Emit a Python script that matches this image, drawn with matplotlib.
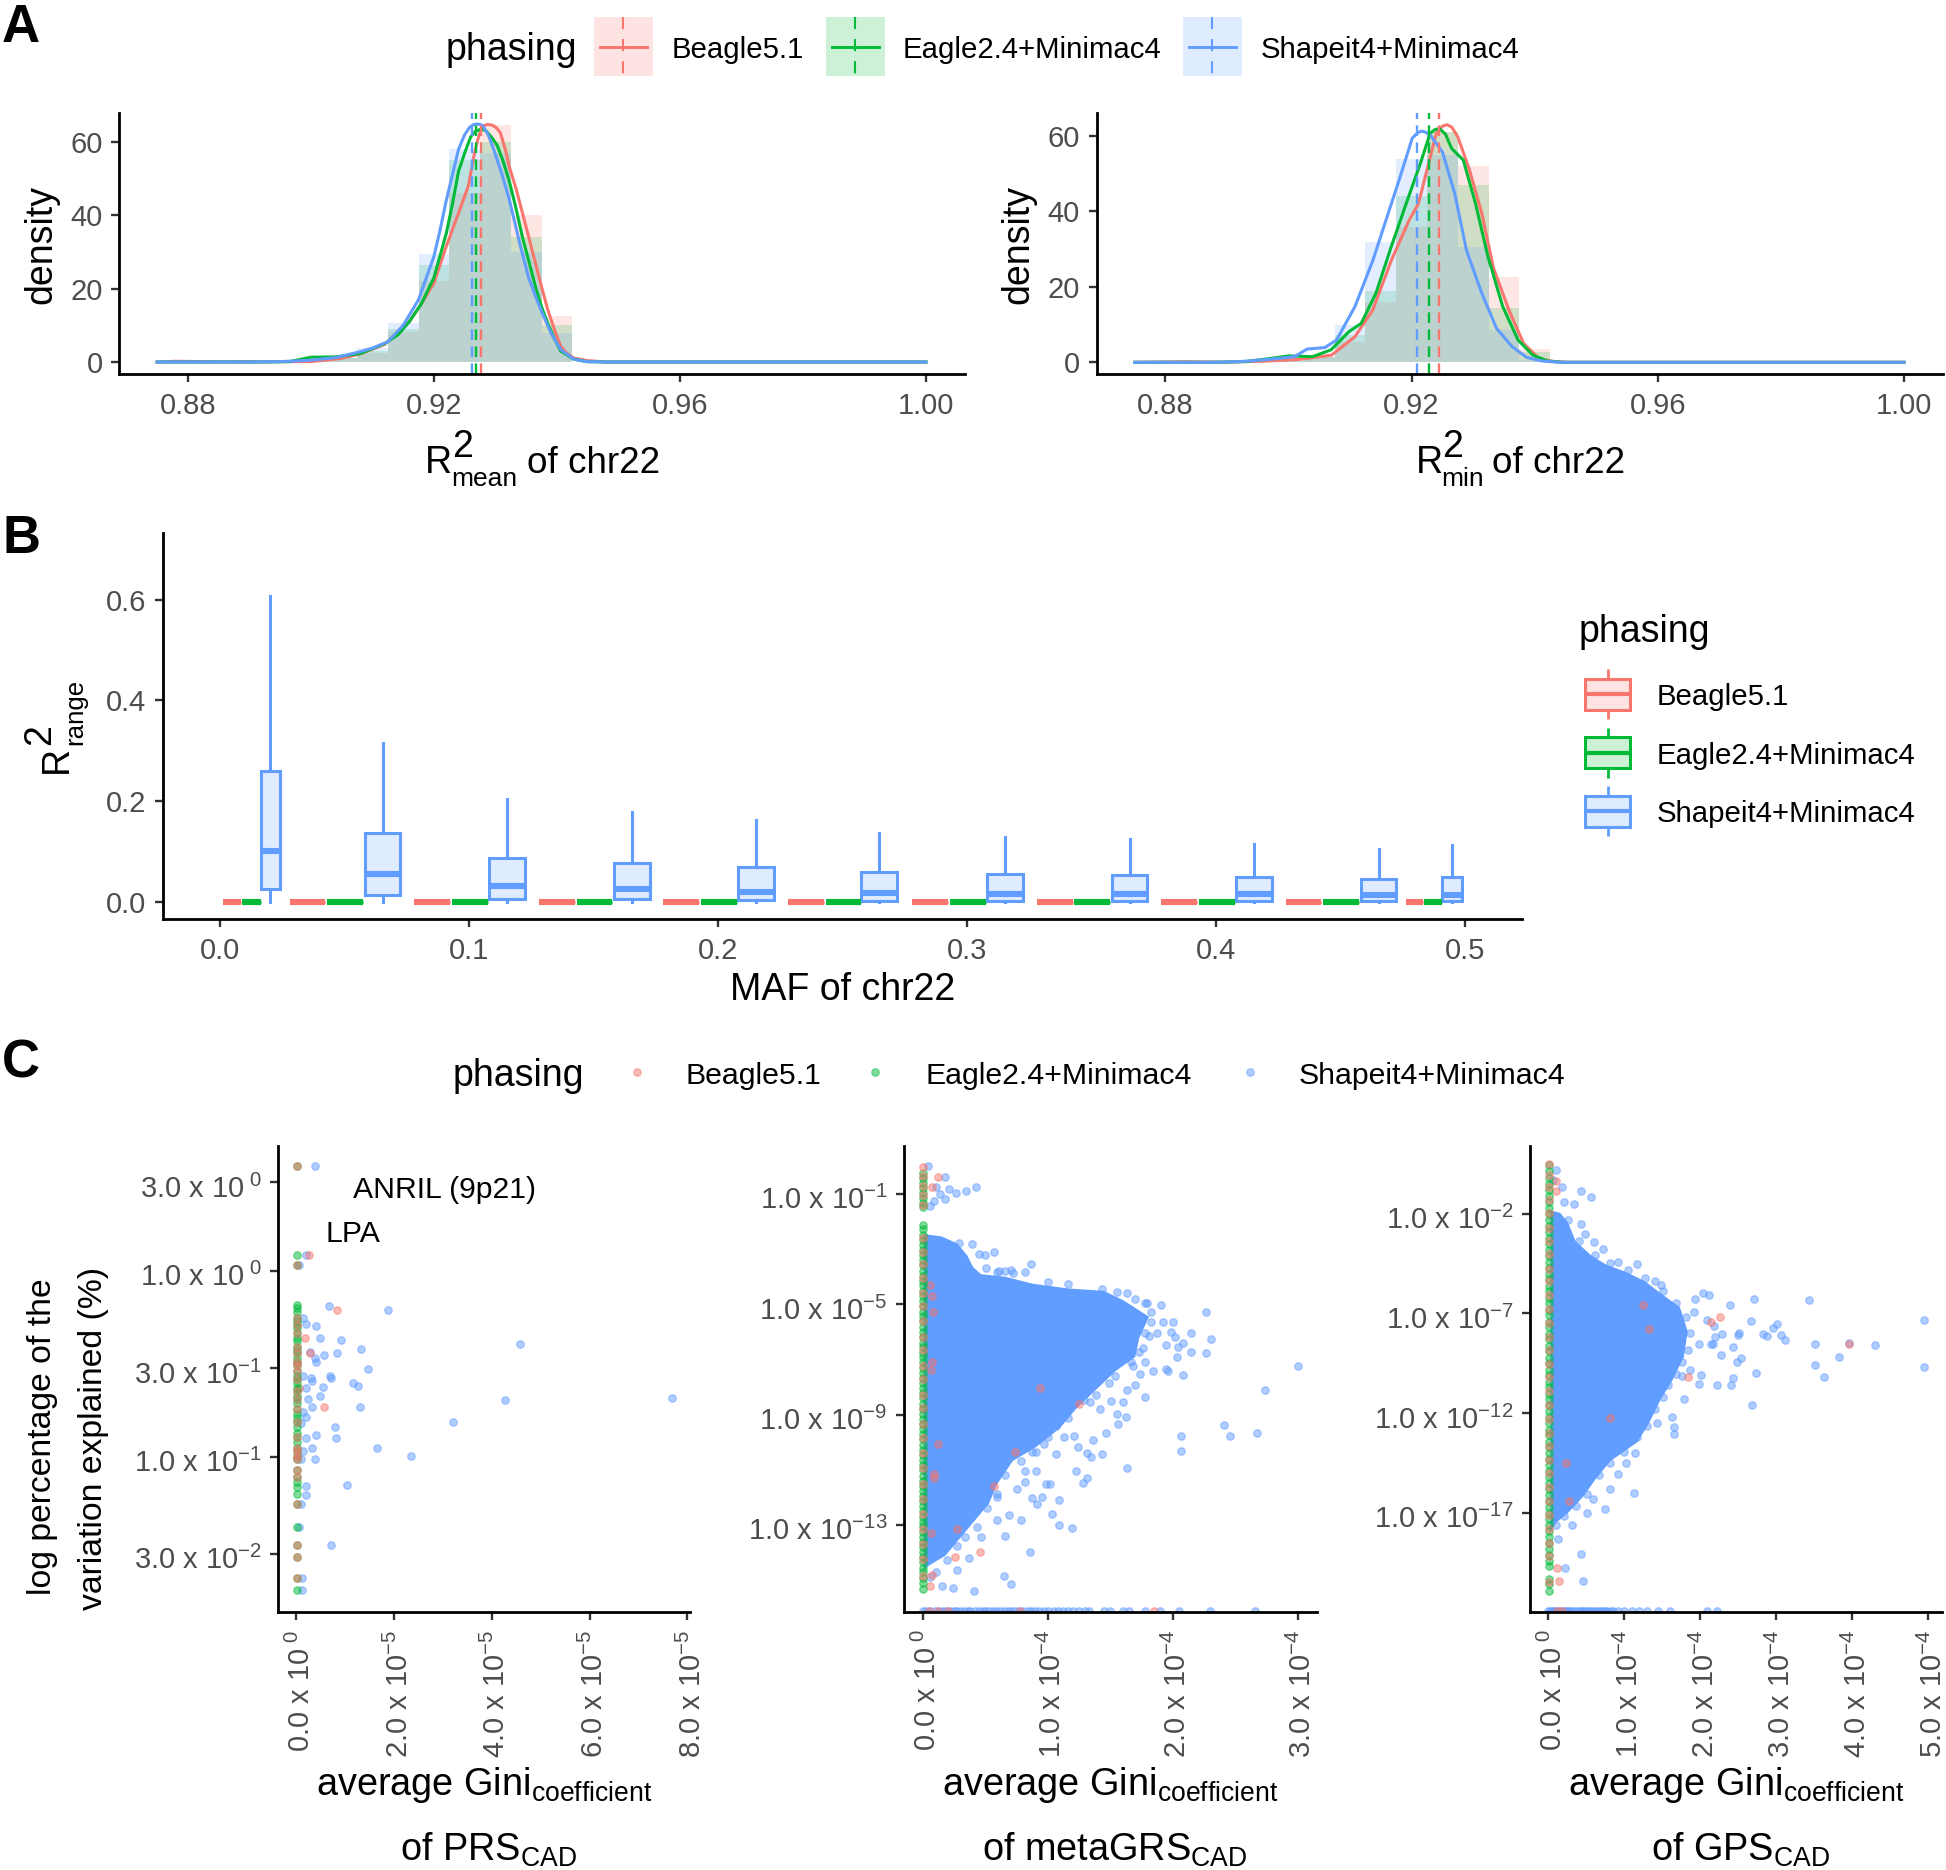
import matplotlib
matplotlib.use("Agg")
import matplotlib.pyplot as plt
from matplotlib.colors import to_rgba
from matplotlib.patches import Rectangle
from matplotlib.ticker import FixedLocator, FixedFormatter
from matplotlib.transforms import ScaledTranslation
import numpy as np

plt.rcParams['font.family'] = ['Liberation Sans', 'DejaVu Sans']
plt.rcParams['mathtext.fontset'] = 'custom'
plt.rcParams['mathtext.rm'] = 'Liberation Sans'
plt.rcParams['mathtext.it'] = 'Liberation Sans:italic'
plt.rcParams['mathtext.bf'] = 'Liberation Sans:bold'

# ---------- shared ----------
methods = ["Beagle5.1", "Eagle2.4+Minimac4", "Shapeit4+Minimac4"]
RED, GREEN, BLUE = "#F8766D", "#00BA38", "#619CFF"
colors = [RED, GREEN, BLUE]

# ---------- panel A data ----------
hist_edges = [0.8975, 0.9025, 0.9075, 0.9125, 0.9175, 0.9225, 0.9275, 0.9325, 0.9375, 0.9425]

a1_hist = {
    RED:   [0.3, 1.0, 2.5, 8.3, 22, 46, 64.5, 40, 12.5],
    GREEN: [0.4, 1.2, 3.0, 9.0, 26.5, 55, 60, 34, 10],
    BLUE:  [0.3, 1.2, 3.8, 10.6, 29.5, 58, 57, 30, 8],
}
a1_red_x = [.875, .878, .885, .892, .897, .900, .905, .908, .912, .916, .918, .920, .922, .924, .9256, .9266, .9272, .9277, .9282, .9287, .9295, .9302, .9308, .9316, .9323, .9334, .9344, .9355, .9365, .9375, .9385, .9396, .9406, .9416, .9427, .9448, .948, .96, 1.0]
a1_red_y = [0, .2, .05, .1, .1, .1, 1.0, 2.2, 4.8, 11, 16, 21.5, 31.5, 40.6, 48, 57, 61, 63.8, 64.5, 64.8, 64.6, 63.8, 62.5, 58, 53, 47, 40.6, 33.5, 27, 20.5, 14.3, 8.8, 4.3, 2.4, 1.1, .4, 0, 0, 0]
a1_green_x = [.875, .885, .893, .8965, .900, .904, .908, .912, .9142, .916, .918, .920, .921, .922, .923, .924, .925, .926, .9268, .9277, .9285, .9295, .9303, .9313, .9323, .9334, .9344, .9355, .9365, .9375, .9385, .9396, .9406, .9427, .9448, .948, .96, 1.0]
a1_green_y = [0, 0, 0, .1, 1.3, 1.4, 2.3, 5, 7.5, 11, 16, 23, 29, 35, 43, 52, 57, 61.5, 63, 63.5, 63, 61, 59, 54.5, 49, 41.5, 34, 27, 20.6, 15, 10.6, 6.3, 3, .8, .1, 0, 0, 0]
a1_blue_x = [.875, .89, .895, .900, .904, .908, .910, .9125, .915, .9175, .920, .921, .922, .923, .924, .925, .9258, .9264, .9269, .9275, .928, .9288, .9295, .931, .9323, .934, .9354, .9365, .9375, .939, .9406, .9427, .9448, .948, .96, 1.0]
a1_blue_y = [0, 0, .1, .5, 1.2, 2.8, 3.8, 5.5, 10, 17, 28.8, 36, 44, 51, 58, 62, 64, 64.7, 64.9, 64.8, 64.3, 62, 59, 51.5, 44, 32, 23, 18, 13.8, 8, 3.4, .8, .1, 0, 0, 0]
a1_means = {RED: .9277, GREEN: .9269, BLUE: .9262}

a2_hist = {
    RED:   [0.3, 1.5, 5.5, 16, 36, 61, 52, 22.5, 3.4],
    GREEN: [0.3, 1.5, 7.2, 19, 44, 61, 47, 14.3, 2.8],
    BLUE:  [0.3, 1.5, 9.9, 32, 54, 55, 30.7, 8.6, 0.6],
}
a2_red_x = [.875, .883, .890, .896, .902, .907, .9108, .9137, .9167, .9196, .9211, .9225, .924, .925, .9257, .9265, .9275, .9294, .9314, .9333, .9358, .9382, .9407, .9431, .9455, .96, 1.0]
a2_red_y = [0, .15, .05, .3, .8, 1.9, 6.8, 13.9, 27, 37.7, 42, 51, 60.7, 62.6, 63, 62.4, 59.8, 51, 39.5, 25, 13.9, 5, 1, .2, 0, 0, 0]
a2_green_x = [.875, .888, .893, .897, .900, .9039, .9069, .9098, .9118, .9142, .9167, .9191, .9216, .923, .9238, .9245, .9255, .9265, .9284, .9304, .9324, .9348, .9373, .9397, .9421, .9446, .96, 1.0]
a2_green_y = [0, 0, .2, 1.0, 1.7, 1.5, 3.3, 8.1, 10.3, 18.3, 30.7, 42, 53.6, 60.7, 61.7, 62, 60.5, 56.7, 53.6, 42, 28, 14.8, 5.9, 1.9, .35, 0, 0, 0]
a2_blue_x = [.875, .888, .8922, .897, .901, .903, .9059, .9078, .9108, .9137, .9162, .9181, .9201, .921, .9216, .9223, .923, .925, .927, .9289, .9314, .9338, .9363, .9387, .9412, .9441, .96, 1.0]
a2_blue_y = [0, 0, .2, .8, 1.5, 3.5, 3.9, 5.9, 14.8, 27, 39.5, 49, 59.4, 60.9, 61.3, 61, 60.3, 55.8, 44.8, 29.8, 18.3, 9, 4.2, 1.3, .35, 0, 0, 0]
a2_means = {RED: .9244, GREEN: .9228, BLUE: .9208}

# ---------- panel B data ----------
b_red_pos = [.0048, .0350, .0852, .1352, .1852, .2352, .2852, .3352, .3852, .4352, .4797]
b_red_wid = [.0072, .0143, .0143, .0143, .0143, .0143, .0143, .0143, .0143, .0143, .0070]
b_green_pos = [.0126, .0501, .1004, .1503, .2003, .2503, .3003, .3503, .4003, .4503, .4871]
b_green_wid = [.0076, .0143, .0143, .0143, .0143, .0143, .0143, .0143, .0143, .0143, .0072]
b_blue_pos = [.0202, .0652, .1153, .1653, .2153, .2647, .3153, .3653, .4153, .4653, .4947]
b_blue_wid = [.0075, .0143, .0143, .0143, .0143, .0143, .0143, .0143, .0143, .0143, .0081]
b_blue_whishi = [.608, .316, .2036, .179, .1625, .136, .128, .124, .115, .104, .113]
b_blue_q3 = [.2606, .137, .0875, .0776, .0696, .059, .055, .0537, .050, .046, .050]
b_blue_med = [.1008, .0557, .0318, .0252, .0199, .0166, .0150, .0150, .0150, .0140, .0140]
b_blue_q1 = [.0252, .0139, .0053, .0046, .0027, .0020, .0020, .0020, .0020, .0020, .0020]
b_blue_whislo = [0, 0, 0, 0, 0, 0, 0, 0, 0, 0, 0]

# ---------- panel C data (x in the axis unit, y as log10 of the value) ----------
c1_blue_x = [.385, .05, .19, .66, 1.88, .14, .19, .40, .49, .92, 4.57, 1.33, .83, .57, .28, .38, .40, 1.47, .69, .72, .30, .33, .14, 1.16, 1.27, .54, .19, .49, .23, 7.69, 4.26, 1.30, .32, .14, .19, .09, 3.20, .80, .82, .40, .20, 1.66, .33, .14, 2.34, .38, .09, 1.03, .19, .19, .09, .05, .72, .12, .11]
c1_blue_y = [.562, .031, .087, -.188, -.211, -.252, -.285, -.298, -.359, -.372, -.392, -.422, -.443, -.450, -.438, -.471, -.489, -.529, -.567, -.575, -.575, -.590, -.565, -.603, -.621, -.626, -.628, -.674, -.687, -.682, -.697, -.730, -.730, -.758, -.786, -.819, -.812, -.840, -.901, -.885, -.898, -.952, -.954, -.972, -.997, -1.013, -1.015, -1.155, -1.160, -1.206, -1.252, -1.377, -1.478, -1.654, -1.720]
c1_red_x = [.25, .83, .17, .28, .56, .05]
c1_red_y = [.087, -.211, -.359, -.443, -.730, -.628]
c1_col_green = [.087, -.183, -.198, -.219, -.252, -.272, -.293, -.310, -.336, -.361, -.379, -.407, -.425, -.443, -.468, -.489, -.509, -.539, -.565, -.583, -.603, -.628, -.649, -.674, -.692, -.712, -.743, -.768, -.794, -.814, -.840, -.870, -.896, -.921, -.952, -.972, -.997, -1.015, -1.074, -1.112, -1.137, -1.163, -1.201, -1.252, -1.377, -1.720]
c1_col_red = [.562, .031, -.252, -.293, -.336, -.407, -.443, -.489, -.509, -.539, -.583, -.649, -.692, -.743, -.814, -.896, -.952, -.972, -.997, -1.015, -1.074, -1.112, -1.252, -1.478, -1.542, -1.654]
c1_col_green_extra = [.562, .031, -1.478, -1.542, -1.654]

c2_hull_x = [.009, .152, .278, .357, .405, .468, .658, .879, 1.163, 1.448, 1.606, 1.812, 1.733, 1.701, 1.543, 1.385, 1.227, 1.100, .911, .721, .594, .531, .405, .278, .183, .057, .009]
c2_hull_y = [-2.457, -2.543, -2.800, -3.229, -3.657, -3.914, -4.000, -4.257, -4.429, -4.514, -4.857, -5.457, -6.229, -6.915, -7.429, -8.115, -8.800, -9.486, -10.172, -10.686, -11.543, -12.229, -12.915, -13.600, -14.115, -14.458, -14.629]
c2_blue_x = [.183, .348, .427, .269, .183, .041, .215, .104, .136, .089, .057, .294, .395, .452, .496, .569, .869, .822, .711, .506, .658, .61, 2.267, 1.906, 1.796, 2.144, 2.308, 1.944, 2.017, 1.985, 1.875, 1.812, 1.922, 2.001, 2.08, 2.042, 2.144, 2.27, 2.039, 1.947, 1.963, 2.08, 1.843, 1.742, 1.685, 1.78, 3.007, 2.738, 2.412, 2.463, 2.675, 2.068, 2.068, 1.635, 1.783, 1.701, 1.638, 1.6, 1.559, 1.631, 1.565, 1.505, 1.416, 1.337, 1.47, 1.363, 1.243, 1.312, 1.432, 1.347, 1.227, 1.312, 1.284, 1.211, 1.132, 1.069, .974, .911, 1.094, .958, .879, .917, 1.037, 1.094, 1.195, .79, .658, .863, .648, .711, .411, .247, .152, .278, .373, .468, .594, .689, .752, .816, .911, .99, 1.021, .816, .594,
             .594, .721, 1.005, 1.163, 1.432, 1.559, 1.638, 1.701, 1.78, 1.827, 1.827, 1.78, 1.764, 1.733, 1.669, 1.543, 1.495, 1.385, 1.29, 1.163, 1.069, 1.005, .879, .784, .658, .594, .515, .436, .341, .278, .199, .104, .057]
c2_blue_y = [-.383, -.897, -.76, -.966, -1.189, -.006, -.829, -.743, -1.0, -1.257, -1.429, -2.766, -2.817, -3.194, -3.211, -3.126, -3.537, -3.846, -3.743, -3.692, -3.794, -3.794, -5.286, -5.029, -4.943, -6.04, -6.246, -6.469, -6.177, -6.006, -6.057, -6.143, -5.629, -5.629, -6.4, -6.537, -6.743, -6.777, -6.932, -7.343, -7.429, -7.583, -7.429, -7.515, -7.257, -7.086, -7.223, -8.115, -9.383, -9.795, -9.658, -9.761, -10.326, -10.943, -8.372, -7.943, -8.115, -8.543, -8.972, -9.092, -9.349, -8.509, -8.8, -8.543, -9.658, -9.915, -10.172, -10.378, -10.446, -10.549, -11.029, -11.303, -11.475, -9.795, -9.829, -10.429, -10.086, -10.343, -12.092, -12.006, -12.023, -12.229, -12.589, -13.0, -13.12, -12.829, -13.395, -13.978, -14.835, -15.144, -15.384, -15.281, -15.212, -14.629, -14.2, -13.429, -12.829, -12.658, -11.715, -11.029, -11.029, -11.509, -11.509, -11.458, -11.886,
             -3.829, -3.88, -4.206, -4.257, -4.446, -4.549, -4.6, -4.823, -4.943, -5.286, -5.629, -6.057, -6.572, -6.743, -7.086, -7.6, -7.858, -8.286, -8.458, -9.143, -9.4, -9.829, -10.343, -10.686, -11.2, -11.972, -12.4, -13.086, -13.429, -13.772, -14.286, -14.715, -14.887]
c2_red_x = [.126, .073, .073, .073, .942, 1.252, .12, .737, .089, .569, .278, .462, .262, .073, .057, .06, .08, .07, .09, .065]
c2_red_y = [-.383, -.743, -4.686, -7.086, -8.029, -8.629, -10.086, -10.36, -11.166, -11.578, -13.138, -13.978, -14.166, -14.8, -15.23, -4.3, -5.3, -7.4, -11.3, -13.3]
c2_col_green = [-.25, -.42, -.61, -.78, -.97, -1.14, -1.33, -1.47, -2.12, -2.28, -2.5, -2.66, -2.87, -3.04, -3.22, -3.41, -3.58, -3.8, -3.96, -4.15, -4.31, -4.52, -4.7, -4.88, -5.05, -5.27, -5.44, -5.62, -5.83, -6.0, -6.18, -6.39, -6.55, -6.76, -6.93, -7.1, -7.31, -7.48, -7.69, -7.85, -8.05, -8.23, -8.41, -8.6, -8.79, -8.97, -9.16, -9.34, -9.53, -9.72, -9.9, -10.1, -10.27, -10.46, -10.66, -10.83, -11.01, -11.21, -11.4, -11.58, -11.76, -11.95, -12.13, -12.32, -12.5, -12.7, -12.88, -13.05, -13.25, -13.43, -13.62, -13.8, -14.0, -14.18, -14.36, -14.55, -14.72, -14.92, -15.1, -15.32]
c2_col_red = [-.02, -.35, -.7, -1.05, -1.42, -2.6, -3.1, -3.55, -4.05, -4.6, -5.05, -5.6, -6.2, -6.65, -7.25, -7.7, -8.3, -8.75, -9.35, -9.85, -10.4, -10.95, -11.5, -12.05, -12.6, -13.15, -13.7, -14.25, -14.85]
c2_row_x = [.0, .03, .06, .1, .13, .16, .19, .22, .25, .27, .3, .33, .36, .38, .42, .45, .48, .5, .53, .56, .59, .62, .65, .68, .71, .74, .77, .8, .84, .87, .9, .93, .97, 1.0, 1.05, 1.08, 1.12, 1.16, 1.2, 1.25, 1.3, 1.33, 1.45, 1.5, 1.6, 1.65, 1.78, 1.9, 2.05, 2.3, 2.66]
c2_row_red_x = [.05, .12, .2, .78, 1.85]
c2_row_y = -16.13

c3_hull_x = [.03, .158, .259, .361, .564, .767, 1.021, 1.275, 1.479, 1.733, 1.834, 1.784, 1.631, 1.479, 1.326, 1.174, .818, .615, .462, .259, .107, .03]
c3_hull_y = [-1.834, -1.953, -2.427, -3.377, -4.089, -4.563, -4.92, -5.394, -5.988, -6.7, -7.887, -9.192, -10.379, -11.328, -12.515, -13.464, -14.414, -15.363, -16.194, -17.025, -17.5, -17.975]
c3_blue_x = [4.944, 4.944, 4.294, 3.958, 3.826, 3.633, 3.506, 3.506, 3.435, 2.703, 2.388, 2.668, 2.876, 2.825, 2.957, 3.013, 3.059, 3.11, 2.51, 2.495, 2.424, 2.48, 2.536, 2.266, 2.739, 2.434, 2.409, 2.226, 2.678, 2.139, 2.165, 2.281, 2.19, 2.185, 2.088, 1.936, 2.038, 2.114, 1.911, 1.987, 1.86, 2.012, 1.987, 1.758, 1.784, 1.631, 1.656, 1.656, 1.428, 1.123, .818, .742, .437, .437, .564, .335, .208, .183, .478, .6, .727, 1.174, .92, 1.479, 1.402, .437, .462, .224, .92, 1.021, 1.148, .589, .513, .31, .132, .1, .06,
             .259, .412, .615, .818, 1.047, 1.275, 1.504, 1.682, 1.809, 1.86, 1.834, 1.758, 1.682, 1.58, 1.504, 1.402, 1.301, 1.174, .996, .818, .666, .513, .361, .208, .107]
c3_blue_y = [-7.317, -9.714, -8.599, -8.48, -9.168, -10.189, -9.596, -8.527, -6.344, -6.272, -6.605, -7.388, -8.124, -8.053, -7.72, -7.554, -8.1, -8.361, -8.005, -8.1, -8.694, -9.429, -9.216, -9.073, -9.999, -10.26, -10.592, -10.592, -11.589, -8.527, -8.527, -8.053, -8.171, -7.649, -7.317, -6.272, -5.964, -6.059, -6.937, -8.527, -9.833, -10.07, -10.569, -10.142, -11.305, -12.183, -12.705, -13.038, -12.515, -16.004, -15.838, -16.835, -2.498, -.884, -1.145, -1.525, -1.43, -.671, -3.021, -3.4, -3.756, -4.516, -4.445, -5.56, -5.394, -19.09, -20.42, -19.8, -15.055, -14.485, -14.01, -16.313, -17.025, -17.619, -18.33, .2, -.3,
             -2.309, -3.377, -4.089, -4.492, -4.801, -5.204, -5.869, -6.462, -7.174, -8.005, -8.836, -9.429, -10.023, -10.616, -11.21, -11.803, -12.634, -13.227, -13.939, -14.533, -15.126, -16.076, -16.669, -17.144, -17.618]
c3_red_x = [.122, .137, 2.256, 2.139, 3.958, 1.839, 1.25, 1.326, .818, .269, .234, .107, .097]
c3_red_y = [-19.8, -20.42, -7.198, -7.412, -8.527, -10.213, -6.581, -7.768, -12.254, -16.431, -14.533, -.338, -.837]
c3_col_green = [.42, .12, -.21, -.5, -.83, -1.1, -1.42, -1.7, -2.03, -2.3, -2.62, -2.9, -3.23, -3.5, -3.82, -4.1, -4.43, -4.7, -5.03, -5.3, -5.62, -5.9, -6.22, -6.5, -6.83, -7.1, -7.42, -7.7, -8.03, -8.3, -8.62, -8.9, -9.23, -9.5, -9.82, -10.1, -10.43, -10.7, -11.03, -11.3, -11.62, -11.9, -12.22, -12.5, -12.83, -13.1, -13.43, -13.7, -14.03, -14.3, -14.62, -14.9, -15.23, -15.5, -15.82, -16.1, -16.43, -16.7, -17.03, -17.3, -17.62, -17.9, -18.23, -18.5, -18.82, -19.1, -19.43, -19.7, -20.35, -20.6, -20.94]
c3_col_red = [.5, -.05, -.65, -1.3, -1.95, -2.7, -3.35, -4.0, -4.75, -5.4, -6.1, -6.8, -7.5, -8.2, -8.85, -9.55, -10.2, -10.9, -11.6, -12.3, -13.0, -13.65, -14.35, -15.0, -15.7, -16.4, -17.1, -17.8, -18.5, -19.2, -20.5]
c3_row_x = [.0, .03, .05, .08, .1, .13, .16, .19, .22, .25, .28, .3, .33, .36, .4, .43, .46, .49, .52, .55, .58, .61, .65, .68, .72, .75, .78, .82, .85, .92, 1.0, 1.1, 1.2, 1.3, 1.45, 1.6, 2.09, 2.22]
c3_row_red_x = [.12, .18]
c3_row_y = -21.94

# ---------- tick labels ----------
a_xticks = [.88, .92, .96, 1.0]
a_xlabels = ["0.88", "0.92", "0.96", "1.00"]
b_xticks = [0, .1, .2, .3, .4, .5]
b_yticks = [0, .2, .4, .6]
c1_yticks = [3.0, 1.0, .3, .1, .03]
c1_ylabels = ["3.0|\\ 0", "1.0|\\ 0", "3.0|-1", "1.0|-1", "3.0|-2"]
c1_xticks = [0, 2, 4, 6, 8]
c1_xlabels = ["0.0|\\ 0", "2.0|-5", "4.0|-5", "6.0|-5", "8.0|-5"]
c2_yticks = [-1, -5, -9, -13]
c2_ylabels = ["1.0|-1", "1.0|-5", "1.0|-9", "1.0|-13"]
c2_xticks = [0, 1, 2, 3]
c2_xlabels = ["0.0|\\ 0", "1.0|-4", "2.0|-4", "3.0|-4"]
c3_yticks = [-2, -7, -12, -17]
c3_ylabels = ["1.0|-2", "1.0|-7", "1.0|-12", "1.0|-17"]
c3_xticks = [0, 1, 2, 3, 4, 5]
c3_xlabels = ["0.0|\\ 0", "1.0|-4", "2.0|-4", "3.0|-4", "4.0|-4", "5.0|-4"]


def sci(s):
    m, e = s.split("|")
    return r"$\mathregular{" + m + r"\ x\ 10^{" + e + r"}}$"


# ---------- figure ----------
W, H = 1946, 1870
fig = plt.figure(figsize=(W / 100, H / 100), dpi=100, facecolor="white")


def axes_px(l, t, r, b):
    ax = fig.add_axes([l / W, 1 - b / H, (r - l) / W, (b - t) / H])
    for s in ("top", "right"):
        ax.spines[s].set_visible(False)
    for s in ("left", "bottom"):
        ax.spines[s].set_linewidth(2.0)
        ax.spines[s].set_color("black")
        ax.spines[s].set_zorder(10)
    ax.tick_params(length=5.8, width=1.7, color="#333333", labelcolor="#4D4D4D", labelsize=21, pad=6)
    ax.set_facecolor("none")
    return ax


def nudge(labels, dx, dy):
    tr = ScaledTranslation(dx / 100, dy / 100, fig.dpi_scale_trans)
    for lab in labels:
        lab.set_transform(lab.get_transform() + tr)


def panel_a(box, xlim, ylim, yticks, hist, curves, means):
    ax = axes_px(*box)
    for c in colors:
        ax.bar(hist_edges[:-1], hist[c], width=0.005, align="edge", color=c, alpha=.18, linewidth=0)
    for c in colors:
        xs, ys = curves[c]
        ax.plot(xs, ys, color=c, lw=2.2, solid_joinstyle="round")
    for c in colors:
        ax.axvline(means[c], color=c, lw=1.7, ls=(0, (4.5, 2.7)))
    ax.set_xlim(*xlim)
    ax.set_ylim(*ylim)
    ax.set_xticks(a_xticks, a_xlabels)
    ax.set_yticks(yticks)
    ax.tick_params(axis="x", pad=7.5)
    return ax


panel_a((119, 113, 965, 374), (.8688, 1.00634), (-3.27, 67.9), [0, 20, 40, 60], a1_hist,
        {RED: (a1_red_x, a1_red_y), GREEN: (a1_green_x, a1_green_y), BLUE: (a1_blue_x, a1_blue_y)}, a1_means)
panel_a((1096.5, 113, 1943, 374), (.8688, 1.00634), (-3.1, 66.1), [0, 20, 40, 60], a2_hist,
        {RED: (a2_red_x, a2_red_y), GREEN: (a2_green_x, a2_green_y), BLUE: (a2_blue_x, a2_blue_y)}, a2_means)

# ---------- panel B ----------
axb = axes_px(163, 533, 1522, 919)


def boxes(ax, pos, wid, lo, q1, med, q3, hi, color):
    stats = [dict(whislo=a, q1=b, med=c, q3=d, whishi=e) for a, b, c, d, e in zip(lo, q1, med, q3, hi)]
    ax.bxp(stats, positions=pos, widths=wid, patch_artist=True, showfliers=False, showcaps=False,
           manage_ticks=False,
           boxprops=dict(facecolor=to_rgba(color, .2), edgecolor=color, linewidth=2.2),
           whiskerprops=dict(color=color, linewidth=2.2),
           medianprops=dict(color=color, linewidth=4.4, solid_capstyle="butt"))


zeros = [0] * 11
boxes(axb, b_red_pos, b_red_wid, zeros, zeros, zeros, zeros, zeros, RED)
boxes(axb, b_green_pos, b_green_wid, zeros, zeros, zeros, zeros, zeros, GREEN)
boxes(axb, b_blue_pos, b_blue_wid, b_blue_whislo, b_blue_q1, b_blue_med, b_blue_q3, b_blue_whishi, BLUE)
axb.set_xlim(-.02297, .5229)
axb.set_ylim(-.0344, .733)
axb.set_xticks(b_xticks, [f"{v:.1f}" for v in b_xticks])
axb.set_yticks(b_yticks, [f"{v:.1f}" for v in b_yticks])
axb.tick_params(axis="x", pad=7.5)

# ---------- panel C ----------
PT = dict(s=29, alpha=.5, linewidths=.9)


def pts(ax, x, y, color, **kw):
    ax.scatter(x, y, color=color, **PT, **kw)


axc1 = axes_px(278, 1145.6, 690, 1612)
pts(axc1, c1_blue_x, 10 ** np.array(c1_blue_y), BLUE)
pts(axc1, c1_red_x, 10 ** np.array(c1_red_y), RED)
pts(axc1, [0.01] * len(c1_col_green), 10 ** np.array(c1_col_green), GREEN)
pts(axc1, [0.01] * len(c1_col_green_extra), 10 ** np.array(c1_col_green_extra), GREEN)
pts(axc1, [0.01] * len(c1_col_red), 10 ** np.array(c1_col_red), RED)
axc1.set_yscale("log")
axc1.set_xlim(-.374, 8.055)
axc1.set_ylim(.01459, 4.725)
axc1.yaxis.set_major_locator(FixedLocator(c1_yticks))
axc1.yaxis.set_major_formatter(FixedFormatter([sci(s) for s in c1_ylabels]))
axc1.yaxis.set_minor_locator(FixedLocator([]))
axc1.set_xticks(c1_xticks, [sci(s) for s in c1_xlabels], rotation=90)

axc2 = axes_px(904, 1145.6, 1317, 1611.5)
axc2.fill(c2_hull_x, c2_hull_y, color=BLUE, linewidth=0, zorder=1)
pts(axc2, c2_blue_x, c2_blue_y, BLUE, zorder=2)
pts(axc2, c2_red_x, c2_red_y, RED, zorder=2)
pts(axc2, c2_row_x, [c2_row_y] * len(c2_row_x), BLUE, zorder=2)
pts(axc2, c2_row_red_x, [c2_row_y] * len(c2_row_red_x), RED, zorder=2)
pts(axc2, [0.005] * len(c2_col_green), c2_col_green, GREEN, zorder=3)
pts(axc2, [0.005] * len(c2_col_red), c2_col_red, RED, zorder=3)
axc2.set_xlim(-.1486, 3.155)
axc2.set_ylim(-16.14, .749)
axc2.set_yticks(c2_yticks, [sci(s) for s in c2_ylabels])
axc2.set_xticks(c2_xticks, [sci(s) for s in c2_xlabels], rotation=90)

axc3 = axes_px(1530, 1145.6, 1942, 1611.5)
axc3.fill(c3_hull_x, c3_hull_y, color=BLUE, linewidth=0, zorder=1)
pts(axc3, c3_blue_x, c3_blue_y, BLUE, zorder=2)
pts(axc3, c3_red_x, c3_red_y, RED, zorder=2)
pts(axc3, c3_row_x, [c3_row_y] * len(c3_row_x), BLUE, zorder=2)
pts(axc3, c3_row_red_x, [c3_row_y] * len(c3_row_red_x), RED, zorder=2)
pts(axc3, [0.005] * len(c3_col_green), c3_col_green, GREEN, zorder=3)
pts(axc3, [0.005] * len(c3_col_red), c3_col_red, RED, zorder=3)
axc3.set_xlim(-.2388, 5.178)
axc3.set_ylim(-21.96, 1.418)
axc3.set_yticks(c3_yticks, [sci(s) for s in c3_ylabels])
axc3.set_xticks(c3_xticks, [sci(s) for s in c3_xlabels], rotation=90)

for ax in (axc1, axc2, axc3):
    ax.tick_params(axis="x", pad=7)
    nudge(ax.get_xticklabels(), 5, 0)
    nudge(ax.get_yticklabels(), 0, -4)

# ---------- overlay: titles, labels and legends in figure pixels ----------
ov = fig.add_axes([0, 0, 1, 1], zorder=20)
ov.set_xlim(0, W)
ov.set_ylim(H, 0)
ov.axis("off")


def txt(x, y, s, size=27, **kw):
    kw.setdefault("ha", "center")
    kw.setdefault("va", "center")
    kw.setdefault("color", "black")
    ov.text(x, y, s, fontsize=size, **kw)


for x, y, s in [(20.5, 42, "A"), (21, 553, "B"), (20.5, 1077, "C")]:
    txt(x, y, s, size=38, fontweight="bold", va="baseline")


def r2h(x_r, x_sub, x_of, base, sub, tail):
    txt(x_r, base, "R", ha="left", va="baseline")
    txt(x_sub + 1, base - 16, "2", ha="left", va="baseline")
    txt(x_sub, base + 13, sub, size=19, ha="left", va="baseline")
    txt(x_of, base, tail, size=26.6, ha="left", va="baseline")


r2h(425, 451.5, 527, 473, "mean", "of chr22")
r2h(1416, 1441.6, 1492.5, 473, "min", "of chr22")
txt(67, 773, "R", ha="left", va="baseline", rotation=90, rotation_mode="anchor")
txt(50, 745, "2", ha="left", va="baseline", rotation=90, rotation_mode="anchor")
txt(82, 745, "range", size=18.6, ha="left", va="baseline", rotation=90, rotation_mode="anchor")

txt(41, 244, "density", rotation=90)
txt(1018, 244, "density", rotation=90)
txt(843, 1000, "MAF of chr22", va="baseline")

txt(43, 1437, "log percentage of the", size=24.3, rotation=90)
txt(94, 1438, "variation explained (%)", size=24.3, rotation=90)
for cx, name in [(484, "PRS"), (1110, "metaGRS"), (1736, "GPS")]:
    txt(cx, 1795, r"average $\mathregular{Gini_{coefficient}}$", size=27.3, va="baseline")
    txt(cx + 5, 1860.5, r"of $\mathregular{" + name + r"_{CAD}}$", size=27.3, va="baseline")

txt(352.6, 1190, "ANRIL (9p21)", size=21.7, ha="left")
txt(326, 1234, "LPA", size=21.7, ha="left")

# legend A
txt(446, 50, "phasing", ha="left")
for c, m, l, t in zip(colors, methods, [594, 826, 1183], [671.5, 903, 1261]):
    ov.add_patch(Rectangle((l, 17), 58.5, 59, facecolor=to_rgba(c, .2), edgecolor="none"))
    xc = l + 29.25
    ov.plot([xc, xc], [17, 76], color=c, lw=1.5, dashes=(5.8, 4.8))
    ov.plot([l + 6, l + 52.5], [47, 47], color=c, lw=2.1)
    txt(t, 50, m, size=21.2, ha="left")

# legend B
txt(1578.5, 632, "phasing", ha="left")
for c, m, yc in zip(colors, methods, [694, 752.5, 811]):
    ov.plot([1607.5, 1607.5], [yc - 25, yc + 25], color=c, lw=2.0, solid_capstyle="butt")
    ov.add_patch(Rectangle((1585, yc - 15.5), 45, 31, facecolor="white", edgecolor="none", zorder=3))
    ov.add_patch(Rectangle((1585, yc - 15.5), 45, 31, facecolor=to_rgba(c, .2), edgecolor=c, lw=2.2, zorder=4))
    ov.plot([1585, 1630], [yc, yc], color=c, lw=3.0, solid_capstyle="butt", zorder=5)
    txt(1657, yc + 3, m, size=21.2, ha="left")

# legend C
txt(453, 1076, "phasing", ha="left")
for c, m, xd, xt in zip(colors, methods, [637, 875, 1250], [686, 925, 1299]):
    ov.scatter([xd], [1072], color=c, **PT)
    txt(xt, 1075.5, m, size=21.8, ha="left")

fig.savefig("out.png", dpi=100, facecolor="white")
